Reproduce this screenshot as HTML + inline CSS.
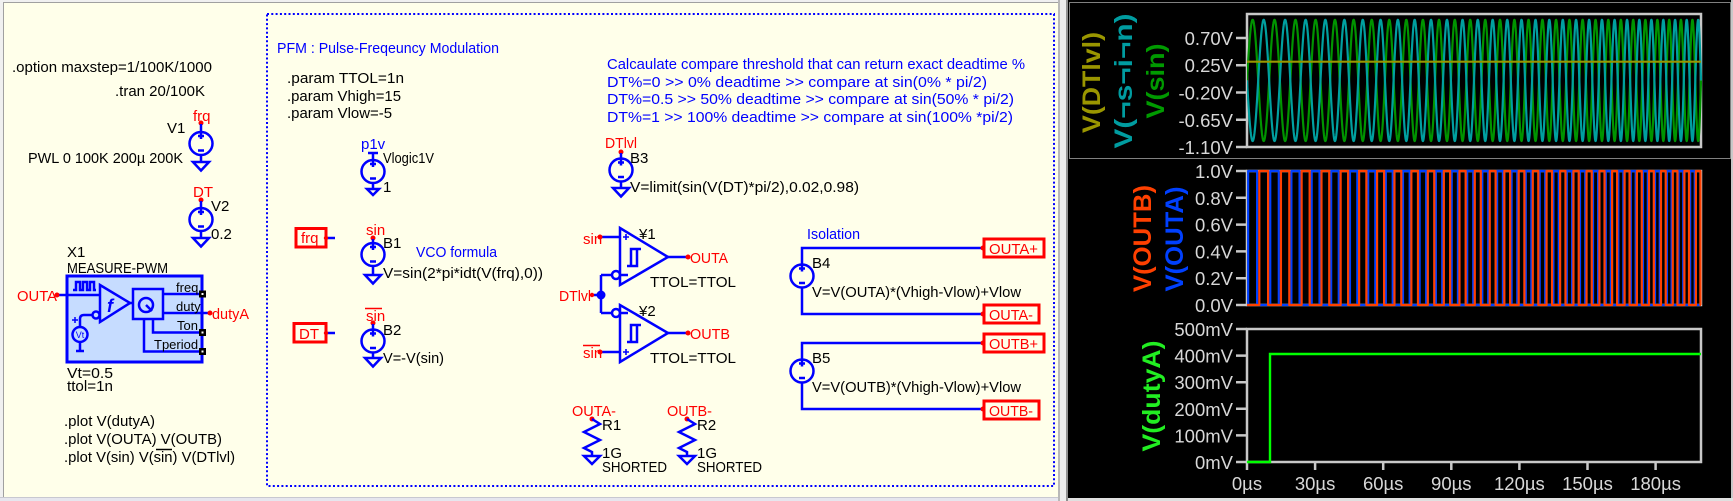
<!DOCTYPE html>
<html><head><meta charset="utf-8">
<style>
html,body{margin:0;padding:0;background:#fff;}
svg{display:block;}
text{font-family:"Liberation Sans",sans-serif;}
.k{fill:#000;font-size:15px;}
.r{fill:#ff0000;font-size:15px;}
.b{fill:#0000ff;font-size:15px;}
.w{stroke:#0000ff;stroke-width:2.5;fill:none;}
.ax{fill:#d8d8d8;font-size:18.5px;}
.tk{stroke:#c8c8c8;stroke-width:2.5;}
.vl{font-size:25px;font-weight:bold;}
</style></head><body>
<svg id="s" width="1733" height="501" xmlns="http://www.w3.org/2000/svg">
<defs>
<g id="src"><circle r="11.5" class="w"/><path d="M-3,-7.5H3M0,-10.5V-4.5M-3,7H3" class="w" stroke-width="2.2"/></g>
<g id="gnd"><path d="M-8,0H8L0,8.5Z" class="w"/></g>
<clipPath id="c1"><rect x="1247" y="12" width="455" height="137"/></clipPath>
<clipPath id="c2"><rect x="1246" y="168" width="457" height="140"/></clipPath>
</defs>
<!-- backgrounds -->
<rect x="0" y="0" width="1733" height="501" fill="#f0f0f0"/>
<rect x="4" y="3" width="1055" height="494" fill="#ffffea"/>
<rect x="3" y="2" width="1" height="495" fill="#a0a0a0"/>
<rect x="3" y="2" width="1056" height="1" fill="#a0a0a0"/>
<rect x="0" y="497" width="1068" height="4" fill="#e6e6ee"/>
<rect x="0" y="497" width="1068" height="1" fill="#c8c8d0"/>
<rect x="1058" y="0" width="10" height="501" fill="#ececec"/>
<rect x="1058" y="0" width="2" height="501" fill="#b8b8b8"/>
<rect x="1066" y="0" width="2" height="501" fill="#909090"/>
<rect x="1068" y="0" width="663" height="498" fill="#000"/>
<rect x="1731" y="0" width="2" height="501" fill="#c8c8c8"/>
<rect x="1068" y="498" width="665" height="3" fill="#e0e0e0"/>
<rect x="1069.5" y="2.5" width="661" height="156" fill="none" stroke="#fff" stroke-width="1" stroke-dasharray="1,1"/>

<!-- blue dotted frame -->
<rect x="267" y="14" width="787" height="472" fill="none" stroke="#0000ff" stroke-width="2" stroke-dasharray="2,2.3"/>

<!-- LEFT texts -->
<text class="k" x="12" y="72" textLength="200" lengthAdjust="spacingAndGlyphs">.option maxstep=1/100K/1000</text>
<text class="k" x="115" y="96" textLength="90" lengthAdjust="spacingAndGlyphs">.tran 20/100K</text>
<text class="r" x="193" y="121">frq</text>
<text class="k" x="167" y="133">V1</text>
<text class="k" x="28" y="163" textLength="155" lengthAdjust="spacingAndGlyphs">PWL 0 100K 200µ 200K</text>
<circle cx="201" cy="123" r="2.5" fill="#f00"/>
<path class="w" d="M201,124V132M201,155V162"/>
<use href="#src" x="201" y="143.5"/>
<use href="#gnd" x="201" y="162"/>

<text class="r" x="193" y="197">DT</text>
<text class="k" x="211" y="211">V2</text>
<text class="k" x="211" y="239">0.2</text>
<circle cx="201" cy="200" r="2.5" fill="#f00"/>
<path class="w" d="M201,201V208M201,231V238"/>
<use href="#src" x="201" y="219.5"/>
<use href="#gnd" x="201" y="238"/>

<!-- X1 block -->
<text class="k" x="67" y="257">X1</text>
<text class="k" x="67" y="273" textLength="101" lengthAdjust="spacingAndGlyphs">MEASURE-PWM</text>
<rect x="67" y="276" width="135" height="86" fill="#c6dcff" stroke="#0000ff" stroke-width="3"/>
<text class="r" x="17" y="301" textLength="40" lengthAdjust="spacingAndGlyphs">OUTA</text>
<path class="w" d="M57,295H100"/>
<circle cx="57" cy="295" r="2.5" fill="#f00"/>
<path class="w" stroke-width="2" d="M73,290H76V282H80V290H83V282H87V290H90V282H94V290H96"/>
<path class="w" d="M100,285V322L130,303Z"/>
<text x="107" y="312" font-family="Liberation Serif" font-style="italic" font-weight="bold" font-size="18" fill="#0000ff">f</text>
<circle cx="96" cy="315" r="3.5" class="w" stroke-width="2"/>
<path class="w" stroke-width="2" d="M92,315H84Q80,315 80,319V327"/>
<path stroke="#0000ff" stroke-width="1.5" d="M72,320H78M75,317V323"/>
<circle cx="80" cy="334.5" r="7.5" class="w" stroke-width="2"/>
<text x="80" y="338" font-size="9" text-anchor="middle" fill="#0000ff">Vt</text>
<path class="w" stroke-width="2" d="M80,342V351M76,351H84"/>
<rect x="133" y="289" width="30" height="30" class="w"/>
<circle cx="146" cy="305" r="7" class="w" stroke-width="2.2"/>
<path class="w" stroke-width="2.2" d="M146,305L152,311"/>
<path class="w" d="M130,303H133M163,294H201M163,313H210M153,319V332.5H201M144,319V351.5H201"/>
<text x="176" y="292" font-size="13" fill="#000">freq</text>
<text x="176" y="311" font-size="13" fill="#000">duty</text>
<text x="177" y="330" font-size="13" fill="#000">Ton</text>
<text x="154" y="349" font-size="13" fill="#000">Tperiod</text>
<rect x="199" y="290.5" width="7" height="7" fill="#000"/><rect x="201.5" y="293" width="2" height="2" fill="#fff"/>
<rect x="199" y="329" width="7" height="7" fill="#000"/><rect x="201.5" y="331.5" width="2" height="2" fill="#fff"/>
<rect x="199" y="348" width="7" height="7" fill="#000"/><rect x="201.5" y="350.5" width="2" height="2" fill="#fff"/>
<circle cx="210" cy="313" r="2.5" fill="#f00"/>
<text class="r" x="212" y="319" textLength="37" lengthAdjust="spacingAndGlyphs">dutyA</text>
<text class="k" x="67" y="378" textLength="46" lengthAdjust="spacingAndGlyphs">Vt=0.5</text>
<text class="k" x="67" y="391" textLength="46" lengthAdjust="spacingAndGlyphs">ttol=1n</text>
<text class="k" x="64" y="426" textLength="91" lengthAdjust="spacingAndGlyphs">.plot V(dutyA)</text>
<text class="k" x="64" y="444" textLength="158" lengthAdjust="spacingAndGlyphs">.plot V(OUTA) V(OUTB)</text>
<text class="k" x="64" y="462" textLength="171" lengthAdjust="spacingAndGlyphs">.plot V(sin) V(sin) V(DTlvl)</text>
<path stroke="#000" stroke-width="1.5" d="M156,449.5H172"/>

<!-- PFM section -->
<text class="b" x="277" y="53" textLength="222" lengthAdjust="spacingAndGlyphs">PFM : Pulse-Freqeuncy Modulation</text>
<text class="k" x="287" y="83" textLength="117" lengthAdjust="spacingAndGlyphs">.param TTOL=1n</text>
<text class="k" x="287" y="101" textLength="114" lengthAdjust="spacingAndGlyphs">.param Vhigh=15</text>
<text class="k" x="287" y="118" textLength="105" lengthAdjust="spacingAndGlyphs">.param Vlow=-5</text>

<text class="b" x="361" y="149">p1v</text>
<path class="w" d="M368,153H378M373,153V160M373,183V189"/>
<use href="#src" x="373" y="171.5"/>
<path class="w" d="M367,189H379L373,195Z"/>
<text class="k" x="383" y="163" textLength="51" lengthAdjust="spacingAndGlyphs">Vlogic1V</text>
<text class="k" x="383" y="192">1</text>

<rect x="296" y="228.5" width="30" height="18.5" fill="none" stroke="#f00" stroke-width="3"/>
<text class="r" x="301" y="243">frq</text>
<path class="w" d="M326,238H335"/>
<circle cx="326" cy="238" r="2.2" fill="#f00"/>
<text class="r" x="366" y="235">sin</text>
<circle cx="373" cy="238" r="2.5" fill="#f00"/>
<path class="w" d="M373,239V243M373,266V275"/>
<use href="#src" x="373" y="254.5"/>
<use href="#gnd" x="373" y="275"/>
<text class="k" x="383" y="248">B1</text>
<text class="b" x="416" y="257" textLength="81" lengthAdjust="spacingAndGlyphs">VCO formula</text>
<text class="k" x="383" y="278" textLength="160" lengthAdjust="spacingAndGlyphs">V=sin(2*pi*idt(V(frq),0))</text>

<rect x="294" y="323.5" width="32" height="18.5" fill="none" stroke="#f00" stroke-width="3"/>
<text class="r" x="299" y="339">DT</text>
<path class="w" d="M326,333H335"/>
<circle cx="326" cy="333" r="2.2" fill="#f00"/>
<text class="r" x="366" y="321">sin</text>
<path stroke="#f00" stroke-width="1.5" d="M365,308.5H382"/>
<circle cx="373" cy="323" r="2.5" fill="#f00"/>
<path class="w" d="M373,324V330M373,352V358"/>
<use href="#src" x="373" y="341"/>
<use href="#gnd" x="373" y="358"/>
<text class="k" x="383" y="335">B2</text>
<text class="k" x="383" y="363" textLength="61" lengthAdjust="spacingAndGlyphs">V=-V(sin)</text>

<!-- Calc text -->
<text class="b" x="607" y="69" textLength="418" lengthAdjust="spacingAndGlyphs">Calcaulate compare threshold that can return exact deadtime %</text>
<text class="b" x="607" y="87" textLength="380" lengthAdjust="spacingAndGlyphs">DT%=0 &gt;&gt; 0% deadtime &gt;&gt; compare at sin(0% * pi/2)</text>
<text class="b" x="607" y="104" textLength="407" lengthAdjust="spacingAndGlyphs">DT%=0.5 &gt;&gt; 50% deadtime &gt;&gt; compare at sin(50% * pi/2)</text>
<text class="b" x="607" y="122" textLength="406" lengthAdjust="spacingAndGlyphs">DT%=1 &gt;&gt; 100% deadtime &gt;&gt; compare at sin(100% *pi/2)</text>

<!-- B3 -->
<text class="r" x="605" y="148" textLength="32" lengthAdjust="spacingAndGlyphs">DTlvl</text>
<circle cx="621" cy="152" r="2.5" fill="#f00"/>
<path class="w" d="M621,153V159M621,182V188"/>
<use href="#src" x="621" y="170"/>
<use href="#gnd" x="621" y="188"/>
<text class="k" x="630" y="163">B3</text>
<text class="k" x="630" y="192" textLength="229" lengthAdjust="spacingAndGlyphs">V=limit(sin(V(DT)*pi/2),0.02,0.98)</text>

<!-- Y1 -->
<path class="w" d="M620,228V285L668,257Z"/>
<path class="w" d="M600,237H620M601,275H612M668,257H688M601,275V313M592,295H601M601,313H612M620,275H628M620,313H628"/>
<path stroke="#0000ff" stroke-width="1.6" d="M623,237H629M626,234V240M623,352H629M626,349V355"/>
<circle cx="616" cy="275" r="4" class="w" stroke-width="2.2"/>
<path class="w" stroke-width="2.2" d="M627,266H637V249M631,266V249H641"/>
<text class="r" x="583" y="244">sin</text>
<circle cx="600" cy="237" r="2.5" fill="#f00"/>
<circle cx="688" cy="257" r="2.5" fill="#f00"/>
<text class="r" x="690" y="263" textLength="38" lengthAdjust="spacingAndGlyphs">OUTA</text>
<text class="k" x="639" y="239">¥1</text>
<text class="k" x="650" y="287" textLength="86" lengthAdjust="spacingAndGlyphs">TTOL=TTOL</text>
<circle cx="601" cy="295" r="4.5" fill="#0000ff"/>
<circle cx="592" cy="295" r="2.2" fill="#f00"/>
<text class="r" x="559" y="301" textLength="32" lengthAdjust="spacingAndGlyphs">DTlvl</text>

<!-- Y2 -->
<path class="w" d="M620,305V362L668,333Z"/>
<path class="w" d="M600,352H620M668,333H688"/>
<circle cx="616" cy="313" r="4" class="w" stroke-width="2.2"/>
<path class="w" stroke-width="2.2" d="M627,342H637V325M631,342V325H641"/>
<text class="r" x="583" y="358">sin</text>
<path stroke="#f00" stroke-width="1.5" d="M583,345.5H600"/>
<circle cx="600" cy="352" r="2.5" fill="#f00"/>
<circle cx="688" cy="333" r="2.5" fill="#f00"/>
<text class="r" x="690" y="339" textLength="40" lengthAdjust="spacingAndGlyphs">OUTB</text>
<text class="k" x="639" y="316">¥2</text>
<text class="k" x="650" y="363" textLength="86" lengthAdjust="spacingAndGlyphs">TTOL=TTOL</text>

<!-- Resistors -->
<text class="r" x="572" y="416" textLength="44" lengthAdjust="spacingAndGlyphs">OUTA-</text>
<circle cx="592" cy="419" r="2.5" fill="#f00"/>
<path class="w" d="M592,419L600,424L584,432L600,440L584,448L592,452V456"/>
<path class="w" d="M584,456H600L592,464Z"/>
<text class="k" x="602" y="430">R1</text>
<text class="k" x="602" y="458">1G</text>
<text class="k" x="602" y="472" textLength="65" lengthAdjust="spacingAndGlyphs">SHORTED</text>

<text class="r" x="667" y="416" textLength="45" lengthAdjust="spacingAndGlyphs">OUTB-</text>
<circle cx="687" cy="419" r="2.5" fill="#f00"/>
<path class="w" d="M687,419L695,424L679,432L695,440L679,448L687,452V456"/>
<path class="w" d="M679,456H695L687,464Z"/>
<text class="k" x="697" y="430">R2</text>
<text class="k" x="697" y="458">1G</text>
<text class="k" x="697" y="472" textLength="65" lengthAdjust="spacingAndGlyphs">SHORTED</text>

<!-- Isolation -->
<text class="b" x="807" y="239" textLength="53" lengthAdjust="spacingAndGlyphs">Isolation</text>
<path class="w" d="M802,264V248H983M802,288V314H983"/>
<use href="#src" x="802" y="276"/>
<path class="w" d="M802,359V343H983M802,383V409H983"/>
<use href="#src" x="802" y="371"/>
<circle cx="983" cy="248" r="2.5" fill="#f00"/>
<circle cx="983" cy="314" r="2.5" fill="#f00"/>
<circle cx="983" cy="343" r="2.5" fill="#f00"/>
<circle cx="983" cy="409" r="2.5" fill="#f00"/>
<rect x="984" y="239" width="60" height="18" fill="none" stroke="#f00" stroke-width="3"/>
<text class="r" x="989" y="254" textLength="49" lengthAdjust="spacingAndGlyphs">OUTA+</text>
<rect x="984" y="305" width="55" height="18" fill="none" stroke="#f00" stroke-width="3"/>
<text class="r" x="989" y="320" textLength="44" lengthAdjust="spacingAndGlyphs">OUTA-</text>
<rect x="984" y="334" width="60" height="18" fill="none" stroke="#f00" stroke-width="3"/>
<text class="r" x="989" y="349" textLength="49" lengthAdjust="spacingAndGlyphs">OUTB+</text>
<rect x="984" y="401" width="55" height="18" fill="none" stroke="#f00" stroke-width="3"/>
<text class="r" x="989" y="416" textLength="44" lengthAdjust="spacingAndGlyphs">OUTB-</text>
<text class="k" x="812" y="268">B4</text>
<text class="k" x="812" y="297" textLength="209" lengthAdjust="spacingAndGlyphs">V=V(OUTA)*(Vhigh-Vlow)+Vlow</text>
<text class="k" x="812" y="363">B5</text>
<text class="k" x="812" y="392" textLength="209" lengthAdjust="spacingAndGlyphs">V=V(OUTB)*(Vhigh-Vlow)+Vlow</text>

<!-- PLOTS -->
<!-- panel 1 -->
<rect x="1247" y="14" width="454" height="133" fill="none" stroke="#c8c8c8" stroke-width="2.5"/>
<path class="tk" d="M1236,38H1247M1236,65.2H1247M1236,92.5H1247M1236,119.8H1247M1236,147H1247"/>
<g class="ax" text-anchor="end">
<text x="1233" y="45">0.70V</text>
<text x="1233" y="72">0.25V</text>
<text x="1233" y="99.5">-0.20V</text>
<text x="1233" y="127">-0.65V</text>
<text x="1233" y="154">-1.10V</text>
</g>
<text class="vl" fill="#9a9600" text-anchor="middle" transform="translate(1100,82.5) rotate(-90)" textLength="101" lengthAdjust="spacingAndGlyphs">V(DTlvl)</text>
<text class="vl" fill="#009ca0" text-anchor="middle" transform="translate(1132,81) rotate(-90)" textLength="135" lengthAdjust="spacingAndGlyphs">V(¬s¬i¬n)</text>
<text class="vl" fill="#009a00" text-anchor="middle" transform="translate(1164,81) rotate(-90)" textLength="75" lengthAdjust="spacingAndGlyphs">V(sin)</text>
<g id="w1" clip-path="url(#c1)"></g>

<!-- panel 2 -->
<rect x="1247" y="171" width="454" height="134" fill="none" stroke="#c8c8c8" stroke-width="2.5"/>
<path class="tk" d="M1236,171H1247M1236,197.8H1247M1236,224.6H1247M1236,251.4H1247M1236,278.2H1247M1236,305H1247"/>
<g class="ax" text-anchor="end">
<text x="1233" y="178">1.0V</text>
<text x="1233" y="204.8">0.8V</text>
<text x="1233" y="231.6">0.6V</text>
<text x="1233" y="258.4">0.4V</text>
<text x="1233" y="285.2">0.2V</text>
<text x="1233" y="312">0.0V</text>
</g>
<text class="vl" fill="#ff4000" text-anchor="middle" transform="translate(1151,238.5) rotate(-90)" textLength="107" lengthAdjust="spacingAndGlyphs">V(OUTB)</text>
<text class="vl" fill="#0040ff" text-anchor="middle" transform="translate(1183,239) rotate(-90)" textLength="105" lengthAdjust="spacingAndGlyphs">V(OUTA)</text>
<g id="w2" clip-path="url(#c2)"></g>

<!-- panel 3 -->
<rect x="1247" y="329" width="454" height="133" fill="none" stroke="#c8c8c8" stroke-width="2.5"/>
<path class="tk" d="M1236,329H1247M1236,355.6H1247M1236,382.2H1247M1236,408.8H1247M1236,435.4H1247M1236,462H1247"/>
<path class="tk" d="M1247,462V470M1315.1,462V470M1383.2,462V470M1451.3,462V470M1519.4,462V470M1587.5,462V470M1655.6,462V470"/>
<g class="ax" text-anchor="end">
<text x="1233" y="336">500mV</text>
<text x="1233" y="362.6">400mV</text>
<text x="1233" y="389.2">300mV</text>
<text x="1233" y="415.8">200mV</text>
<text x="1233" y="442.4">100mV</text>
<text x="1233" y="469">0mV</text>
</g>
<g class="ax" text-anchor="middle">
<text x="1247" y="490">0µs</text>
<text x="1315.1" y="490">30µs</text>
<text x="1383.2" y="490">60µs</text>
<text x="1451.3" y="490">90µs</text>
<text x="1519.4" y="490">120µs</text>
<text x="1587.5" y="490">150µs</text>
<text x="1655.6" y="490">180µs</text>
</g>
<text class="vl" fill="#22ee22" text-anchor="middle" transform="translate(1160,396) rotate(-90)" textLength="111" lengthAdjust="spacingAndGlyphs">V(dutyA)</text>
<polyline points="1247,462 1270,462 1270,354 1701,354" fill="none" stroke="#00ff00" stroke-width="2.4"/>
</svg>
<script>
(function(){
var NS='http://www.w3.org/2000/svg';
function add(parent,pts,col,w){var p=document.createElementNS(NS,'polyline');p.setAttribute('points',pts.join(' '));p.setAttribute('fill','none');p.setAttribute('stroke',col);p.setAttribute('stroke-width',w);p.setAttribute('stroke-linejoin','round');parent.appendChild(p);}
function X(t){return 1247+t*2.27;}
function ph(t){return 2*Math.PI*(0.1*t+0.00025*t*t);}
var g1=document.getElementById('w1'),g2=document.getElementById('w2');
var a=[],b=[],i,t,v,x;
for(i=0;i<=8000;i++){t=i*0.025;v=Math.sin(ph(t));x=X(t).toFixed(2);a.push(x+','+(80.4-60.6*v).toFixed(2));b.push(x+','+(80.4+60.6*v).toFixed(2));}
add(g1,a,'#009400',2.2);add(g1,b,'#00a0a0',2.2);
add(g1,['1247,61.7','1701,61.7'],'#999600',2.2);
var th=0.309;
function sq(sign){var pts=[],prev=null,s,y,xx,tt,k;for(k=0;k<=20000;k++){tt=k*0.01;s=(sign*Math.sin(ph(tt))>th)?1:0;xx=X(tt).toFixed(2);y=s?171:305;if(prev===null){pts.push(xx+','+y);}else if(s!==prev){pts.push(xx+','+(prev?171:305));pts.push(xx+','+y);}prev=s;}pts.push(X(200).toFixed(2)+','+(prev?171:305));return pts;}
add(g2,sq(1),'#0040ff',2.2);add(g2,sq(-1),'#ff4000',2.2);
})();
</script>
</body></html>
